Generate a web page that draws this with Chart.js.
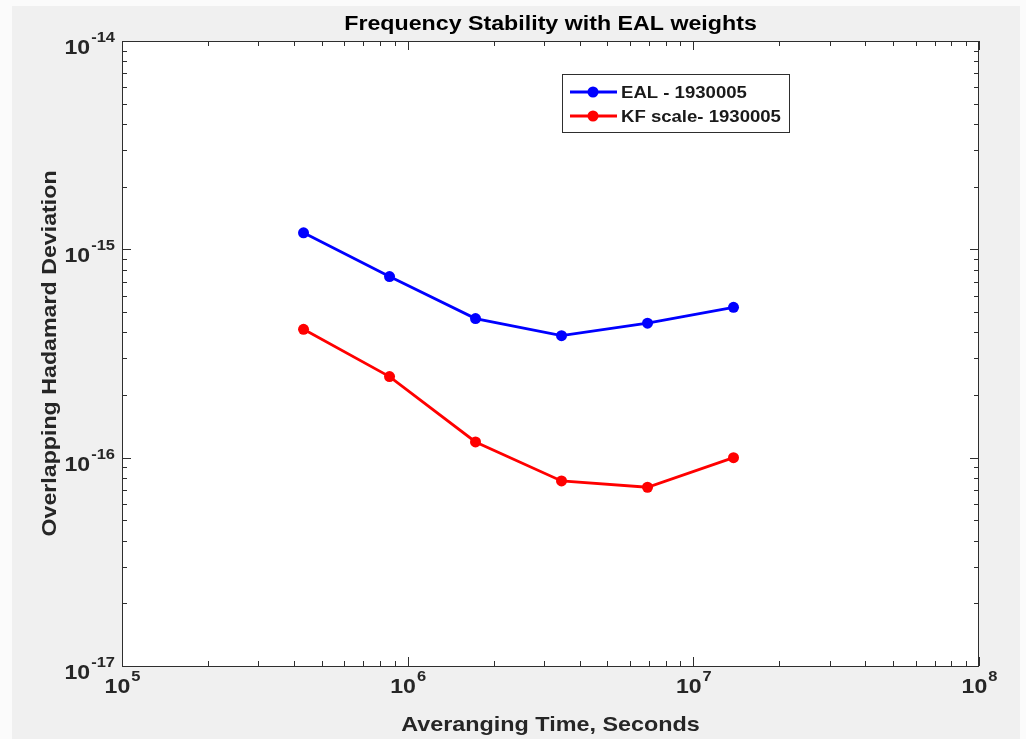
<!DOCTYPE html>
<html>
<head>
<meta charset="utf-8">
<style>
  html, body { margin: 0; padding: 0; background: #ffffff; }
  #wrap { width: 1026px; height: 739px; position: relative; }
</style>
<script src="https://cdn.jsdelivr.net/npm/chart.js@4.4.1/dist/chart.umd.min.js"></script>
</head>
<body>
<div id="wrap"><canvas id="c" width="1026" height="739"></canvas></div>
<script>
// ---------------- data ----------------
const chartTitle = "Frequency Stability with EAL weights";
const xTitle = "Averanging Time, Seconds";
const yTitle = "Overlapping Hadamard Deviation";
const tau = [432000, 864000, 1728000, 3456000, 6912000, 13824000];
const ealDev = [1.20e-15, 7.40e-16, 4.65e-16, 3.85e-16, 4.42e-16, 5.27e-16];
const kfDev  = [4.13e-16, 2.45e-16, 1.19e-16, 7.73e-17, 7.21e-17, 1.00e-16];
const seriesLabels = ["EAL - 1930005", "KF scale- 1930005"];
const seriesColors = ["#0000ff", "#ff0000"];
const xDecades = [5, 6, 7, 8];
const yDecades = [-17, -16, -15, -14];

// ---------------- helpers ----------------
const FAMILY = '"Liberation Sans", Arial, Helvetica, sans-serif';
function drawStretched(ctx, text, x, y, font, align, sx) {
  ctx.save();
  ctx.font = font;
  const w = ctx.measureText(text).width * sx;
  const x0 = align === 'center' ? x - w / 2 : (align === 'right' ? x - w : x);
  ctx.translate(x0, y);
  ctx.scale(sx, 1);
  ctx.textAlign = 'left';
  ctx.textBaseline = 'alphabetic';
  ctx.fillText(text, 0, 0);
  ctx.restore();
  return w;
}
function measure(ctx, text, font, sx) {
  ctx.save(); ctx.font = font;
  const w = ctx.measureText(text).width * sx;
  ctx.restore();
  return w;
}
function expText(d) { return String(d); }

const toPts = (xs, ys) => xs.map((x, i) => ({ x: x, y: ys[i] }));

const matlabPlugin = {
  id: 'matlab',
  beforeDraw(chart) {
    const ctx = chart.ctx, a = chart.chartArea;
    ctx.save();
    ctx.fillStyle = '#fbfbfb';
    ctx.fillRect(0, 0, chart.width, chart.height);
    ctx.fillStyle = '#f0f0f0';
    ctx.fillRect(12, 6, chart.width - 18, chart.height - 6);
    ctx.fillStyle = '#ffffff';
    ctx.fillRect(a.left, a.top, a.right - a.left, a.bottom - a.top);
    ctx.restore();
  },
  afterDatasetsDraw(chart) {
    const ctx = chart.ctx, a = chart.chartArea;
    const xs = chart.scales.x, ys = chart.scales.y;
    ctx.save();
    ctx.strokeStyle = '#2e2e2e';
    ctx.lineWidth = 1;
    // box
    ctx.strokeRect(a.left + 0.5, a.top + 0.5, a.right - a.left - 1, a.bottom - a.top);
    // x ticks
    for (let d = xDecades[0]; d <= xDecades[xDecades.length - 1]; d++) {
      for (let m = 1; m <= 9; m++) {
        const v = m * Math.pow(10, d);
        if (v < xs.min * 0.999 || v > xs.max * 1.001) continue;
        const px = Math.round(xs.getPixelForValue(v)) + 0.5;
        const len = m === 1 ? 9 : 5;
        ctx.beginPath();
        ctx.moveTo(px, a.bottom); ctx.lineTo(px, a.bottom - len);
        ctx.moveTo(px, a.top); ctx.lineTo(px, a.top + len);
        ctx.stroke();
      }
    }
    // y ticks
    for (let d = yDecades[0]; d <= yDecades[yDecades.length - 1]; d++) {
      for (let m = 1; m <= 9; m++) {
        const v = m * Math.pow(10, d);
        if (v < ys.min * 0.999 || v > ys.max * 1.001) continue;
        const py = Math.round(ys.getPixelForValue(v)) + 0.5;
        const len = m === 1 ? 9 : 5;
        ctx.beginPath();
        ctx.moveTo(a.left, py); ctx.lineTo(a.left + len, py);
        ctx.moveTo(a.right, py); ctx.lineTo(a.right - len, py);
        ctx.stroke();
      }
    }
    // legend
    const lx = 562, ly = 74, lw = 227, lh = 58;
    ctx.fillStyle = '#ffffff';
    ctx.fillRect(lx, ly, lw, lh);
    ctx.strokeStyle = '#2e2e2e';
    ctx.lineWidth = 1;
    ctx.strokeRect(lx + 0.5, ly + 0.5, lw, lh);
    const lfont = 'bold 16px ' + FAMILY;
    chart.data.datasets.forEach((ds, i) => {
      const cy = ly + 18 + i * 24;
      ctx.strokeStyle = ds.borderColor;
      ctx.lineWidth = 2.8;
      ctx.beginPath(); ctx.moveTo(570, cy); ctx.lineTo(617, cy); ctx.stroke();
      ctx.fillStyle = ds.borderColor;
      ctx.beginPath(); ctx.arc(593, cy, 5.5, 0, Math.PI * 2); ctx.fill();
      ctx.fillStyle = '#1a1a1a';
      drawStretched(ctx, ds.label, 621, cy + 6, lfont, 'left', 1.16);
    });
    ctx.restore();
  },
  afterDraw(chart) {
    const ctx = chart.ctx, a = chart.chartArea;
    const xs = chart.scales.x, ys = chart.scales.y;
    ctx.save();
    ctx.fillStyle = '#262626';
    const baseFont = 'bold 21px ' + FAMILY;
    const supFont = 'bold 15px ' + FAMILY;
    const tsx = 1.1;
    // x tick labels
    xDecades.forEach(d => {
      const px = xs.getPixelForValue(Math.pow(10, d));
      const w1 = measure(ctx, '10', baseFont, tsx);
      const w2 = measure(ctx, expText(d), supFont, tsx);
      const x0 = px - (w1 + w2) / 2;
      drawStretched(ctx, '10', x0, a.bottom + 27, baseFont, 'left', tsx);
      drawStretched(ctx, expText(d), x0 + w1 + 1, a.bottom + 15, supFont, 'left', tsx);
    });
    // y tick labels
    yDecades.forEach(d => {
      const py = ys.getPixelForValue(Math.pow(10, d));
      const right = a.left - 7;
      const w2 = measure(ctx, expText(d), supFont, tsx);
      drawStretched(ctx, expText(d), right, py + 1, supFont, 'right', tsx);
      drawStretched(ctx, '10', right - w2 - 1, py + 13, baseFont, 'right', tsx);
    });
    // title
    ctx.fillStyle = '#000000';
    drawStretched(ctx, chartTitle, (a.left + a.right) / 2, 30, 'bold 19.5px ' + FAMILY, 'center', 1.19);
    // x title
    ctx.fillStyle = '#262626';
    drawStretched(ctx, xTitle, (a.left + a.right) / 2, 731, 'bold 20.5px ' + FAMILY, 'center', 1.14);
    // y title
    ctx.save();
    ctx.translate(56, (a.top + a.bottom) / 2);
    ctx.rotate(-Math.PI / 2);
    drawStretched(ctx, yTitle, 0, 0, 'bold 20px ' + FAMILY, 'center', 1.16);
    ctx.restore();
    ctx.restore();
  }
};

new Chart(document.getElementById('c'), {
  type: 'line',
  data: {
    datasets: [
      {
        label: seriesLabels[0],
        data: toPts(tau, ealDev),
        borderColor: seriesColors[0],
        backgroundColor: seriesColors[0],
        pointBackgroundColor: seriesColors[0],
        pointBorderColor: seriesColors[0],
        borderWidth: 2.8,
        pointRadius: 5.5,
        pointBorderWidth: 0,
        tension: 0,
        fill: false
      },
      {
        label: seriesLabels[1],
        data: toPts(tau, kfDev),
        borderColor: seriesColors[1],
        backgroundColor: seriesColors[1],
        pointBackgroundColor: seriesColors[1],
        pointBorderColor: seriesColors[1],
        borderWidth: 2.8,
        pointRadius: 5.5,
        pointBorderWidth: 0,
        tension: 0,
        fill: false
      }
    ]
  },
  options: {
    responsive: false,
    animation: false,
    events: [],
    layout: { padding: { left: 122, top: 41, right: 47, bottom: 73 } },
    plugins: {
      legend: { display: false },
      title: { display: false },
      tooltip: { enabled: false }
    },
    scales: {
      x: {
        type: 'logarithmic',
        min: 1e5,
        max: 1e8,
        display: false
      },
      y: {
        type: 'logarithmic',
        min: 1e-17,
        max: 1e-14,
        display: false
      }
    }
  },
  plugins: [matlabPlugin]
});
</script>
</body>
</html>
